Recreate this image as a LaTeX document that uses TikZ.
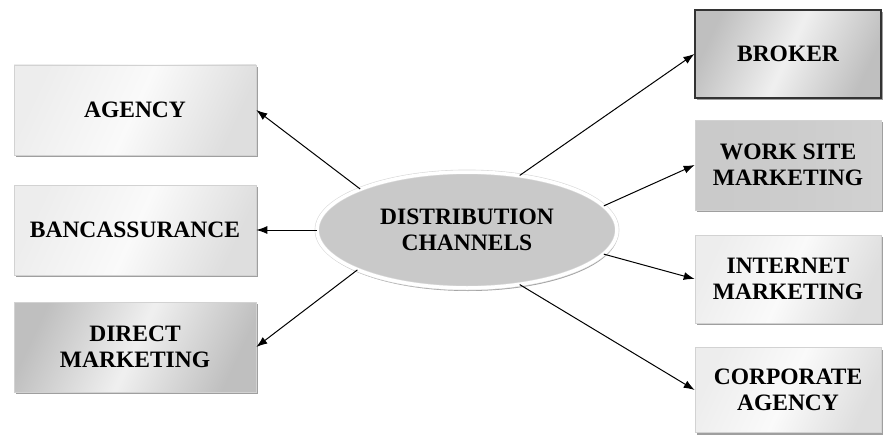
\documentclass[tikz,border=0pt]{standalone}
\usepackage{fontspec}
\setmainfont{Liberation Serif}
\usetikzlibrary{shapes.geometric,shadows,arrows.meta}

\begin{document}
\begin{tikzpicture}[
    x=1pt, y=-1pt,
    chan/.style={draw=gray!35, line width=0.6pt, minimum width=242pt, minimum height=90pt,
        align=center, font=\bfseries\fontsize{23.5}{26}\selectfont, inner sep=2pt,
        drop shadow={shadow xshift=2pt, shadow yshift=-2pt, fill=gray!75, opacity=1},
        left color=gray!14, right color=gray!26, middle color=white!96!gray, shading angle=65},
    dark/.style={left color=gray!50, right color=gray!50, middle color=gray!12, shading angle=65},
    hub/.style={ellipse, fill=gray!42, draw=gray!30, double=white, double distance=3.5pt,
        line width=0.6pt, minimum width=300pt, minimum height=116pt, align=center,
        font=\bfseries\fontsize{23.5}{26}\selectfont,
        drop shadow={shadow xshift=1pt, shadow yshift=-3pt, fill=gray!75, opacity=1}},
    arr/.style={-{Latex[length=11pt, width=8pt]}, line width=1pt},
]
\useasboundingbox (0,0) rectangle (883,436);

% Hub
\node[hub] (dc) at (467,230) {DISTRIBUTION\\CHANNELS};

% Left column
\node[chan] (agency) at (135,110) {AGENCY};
\node[chan] (banc)   at (135,230) {BANCASSURANCE};
\node[chan, dark] (direct) at (135,347) {DIRECT\\MARKETING};

% Right column
\node[chan, dark, draw=gray!40!black, line width=1.2pt, minimum width=186pt, minimum height=88pt] (broker) at (788,54) {BROKER};
\node[chan, left color=gray!42, right color=gray!36, middle color=gray!40, minimum width=186pt] (worksite) at (788,165) {WORK SITE\\MARKETING};
\node[chan, minimum width=186pt, minimum height=88pt] (internet) at (788,279) {INTERNET\\MARKETING};
\node[chan, minimum width=186pt, minimum height=85pt] (corporate) at (788,390) {CORPORATE\\AGENCY};

% Edges
\draw[arr] (dc.159) -- (agency.east);
\draw[arr] (dc.west) -- (banc.east);
\draw[arr] (dc.200) -- (direct.east);
\draw[arr] (dc.46) -- (broker.west);
\draw[arr] (dc.10) -- (worksite.west);
\draw[arr] (dc.350) -- (internet.west);
\draw[arr] (dc.314) -- (corporate.west);

\end{tikzpicture}
\end{document}
